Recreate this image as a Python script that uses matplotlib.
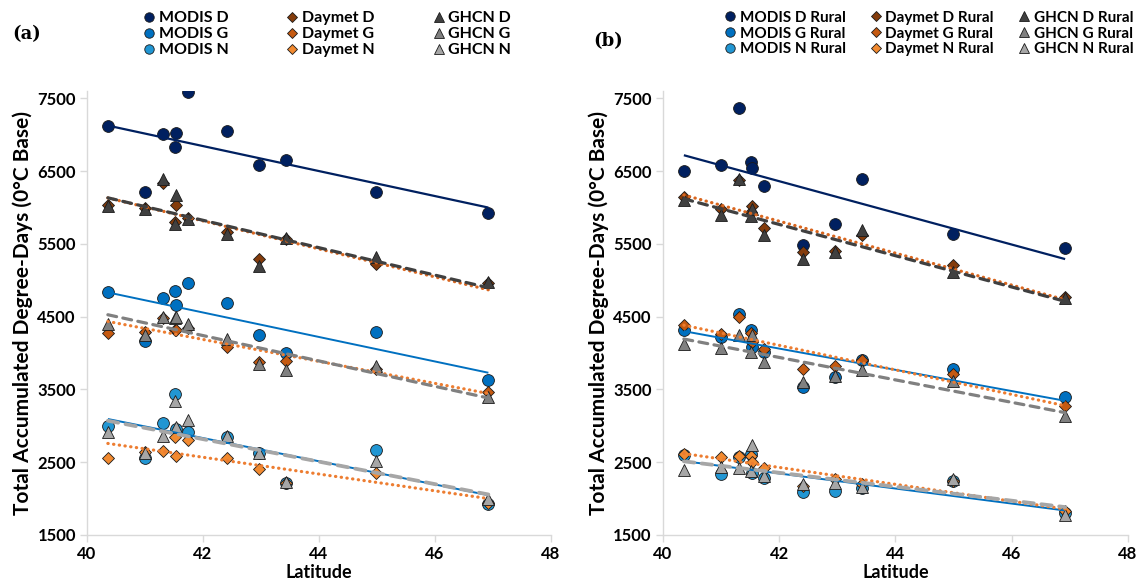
import numpy as np
import matplotlib
matplotlib.use("Agg")
import matplotlib.pyplot as plt
from matplotlib.lines import Line2D

plt.rcParams["font.family"] = ["Lato", "DejaVu Sans"]

# station latitudes (shared by both panels)
lat = [40.36, 41.00, 41.31, 41.52, 41.54, 41.74, 42.41, 42.96, 43.43, 44.99, 46.92]

# panel (a) - all stations
modis_d = [7123, 6214, 7008, 6834, 7018, 7591, 7050, 6582, 6646, 6214, 5930]
modis_g = [4837, 4162, 4760, 4851, 4654, 4961, 4685, 4254, 4002, 4286, 3631]
modis_n = [3001, 2551, 3033, 3438, 2950, 2909, 2850, 2620, 2221, 2667, 1923]
daymet_d = [6040, 5990, 6338, 5800, 6031, 5860, 5660, 5297, 5570, 5228, 4960]
daymet_g = [4278, 4286, 4480, 4319, 4320, 4347, 4089, 3870, 3887, 3780, 3460]
daymet_n = [2551, 2640, 2647, 2840, 2588, 2809, 2560, 2405, 2210, 2345, 1940]
ghcn_d = [6017, 5985, 6385, 5779, 6168, 5847, 5641, 5191, 5586, 5319, 4975]
ghcn_g = [4402, 4241, 4493, 4480, 4500, 4400, 4195, 3851, 3768, 3828, 3401]
ghcn_n = [2909, 2620, 2864, 3336, 2978, 3084, 2864, 2630, 2230, 2519, 1992]

# panel (b) - rural
modis_d_r = [6499, 6577, 7362, 6627, 6545, 6292, 5480, 5779, 6385, 5631, 5443]
modis_g_r = [4320, 4217, 4530, 4319, 4089, 4011, 3538, 3666, 3906, 3782, 3391]
modis_n_r = [2602, 2336, 2565, 2612, 2345, 2289, 2097, 2106, 2152, 2244, 1807]
daymet_d_r = [6145, 5972, 6380, 5939, 6017, 5724, 5388, 5400, 5618, 5214, 4770]
daymet_g_r = [4378, 4264, 4490, 4280, 4150, 4057, 3782, 3828, 3900, 3713, 3277]
daymet_n_r = [2612, 2574, 2590, 2580, 2500, 2427, 2175, 2267, 2198, 2240, 1830]
ghcn_d_r = [6100, 5893, 6385, 5879, 5985, 5618, 5297, 5388, 5686, 5112, 4760]
ghcn_g_r = [4126, 4071, 4241, 4011, 4241, 3873, 3598, 3690, 3768, 3621, 3139]
ghcn_n_r = [2391, 2430, 2427, 2382, 2740, 2313, 2198, 2221, 2161, 2267, 1780]

DOT = (0, (0.1, 1.7))
DASH = (0, (2.8, 2.0))
# (marker, face colour, size, trendline colour, line style, line width)
STYLE = {
    "MODIS D":  ("o", "#002060", 8.5, "#002060", "-", 1.6),
    "MODIS G":  ("o", "#0070C0", 8.5, "#0070C0", "-", 1.4),
    "MODIS N":  ("o", "#2196D3", 8.5, "#0070C0", "-", 1.4),
    "Daymet D": ("D", "#843C0C", 6.5, "#D9661F", DOT, 2.3),
    "Daymet G": ("D", "#C55A11", 6.5, "#ED7D31", DOT, 2.3),
    "Daymet N": ("D", "#F28A30", 6.5, "#ED7D31", DOT, 2.3),
    "GHCN D":   ("^", "#404040", 8.5, "#404040", DASH, 2.3),
    "GHCN G":   ("^", "#808080", 8.5, "#808080", DASH, 2.3),
    "GHCN N":   ("^", "#A6A6A6", 8.5, "#A6A6A6", DASH, 2.7),
}

fig = plt.figure(figsize=(11.43, 5.85), dpi=100)
ax_a = fig.add_axes([0.0761, 0.0855, 0.406, 0.759])
ax_b = fig.add_axes([0.580, 0.0855, 0.4068, 0.759])


def panel(ax, series, suffix, tag, tag_xy, leg_x, colsp, legsize):
    x = np.array(lat)
    for name, vals in series:
        mk, fc, ms, lc, ls, lw = STYLE[name]
        ax.plot(x, vals, linestyle="none", marker=mk, markersize=ms,
                markerfacecolor=fc, markeredgecolor="#1a1a1a",
                markeredgewidth=0.6, zorder=3)
    for name, vals in series:
        mk, fc, ms, lc, ls, lw = STYLE[name]
        k, b = np.polyfit(x, vals, 1)
        xx = np.array([x.min(), x.max()])
        ax.plot(xx, k * xx + b, color=lc, linestyle=ls, lw=lw,
                dash_capstyle="round", solid_capstyle="butt", zorder=4)

    ax.set_xlim(40, 48)
    ax.set_ylim(1500, 7600)
    ax.set_xticks([40, 42, 44, 46, 48])
    ax.set_yticks(range(1500, 7501, 1000))
    for s in ("top", "right"):
        ax.spines[s].set_visible(False)
    for s in ("left", "bottom"):
        ax.spines[s].set_color("#D9D9D9")
        ax.spines[s].set_linewidth(1.0)
    ax.tick_params(direction="out", length=5, color="#D9D9D9", width=1.0,
                   labelsize=12, pad=3)
    for t in ax.get_xticklabels() + ax.get_yticklabels():
        t.set_fontweight("bold")
    ax.set_xlabel("Latitude", fontsize=13, fontweight="bold", labelpad=1.5)
    ax.set_ylabel("Total Accumulated Degree-Days (0°C Base)", fontsize=15,
                  fontweight="bold", labelpad=3)

    handles = []
    for name, _ in series:
        mk, fc, ms, lc, ls, lw = STYLE[name]
        handles.append(Line2D([], [], linestyle="none", marker=mk,
                              markersize=ms * 0.8, markerfacecolor=fc,
                              markeredgecolor="#1a1a1a", markeredgewidth=0.6,
                              label=name + suffix))
    fig.legend(handles=handles, loc="upper left", ncol=3,
               bbox_to_anchor=(leg_x, 0.992), frameon=False,
               prop={"weight": "bold", "size": legsize},
               handletextpad=0.1, handlelength=1.0,
               columnspacing=colsp, labelspacing=0.12, borderaxespad=0)
    fig.text(tag_xy[0], tag_xy[1], tag, fontsize=13, fontweight="bold",
             family="DejaVu Serif", ha="left", va="center")


panel(ax_a, [("MODIS D", modis_d), ("MODIS G", modis_g), ("MODIS N", modis_n),
             ("Daymet D", daymet_d), ("Daymet G", daymet_g), ("Daymet N", daymet_n),
             ("GHCN D", ghcn_d), ("GHCN G", ghcn_g), ("GHCN N", ghcn_n)],
      "", "(a)", (0.011, 0.942), 0.118, 3.5, 11.5)
panel(ax_b, [("MODIS D", modis_d_r), ("MODIS G", modis_g_r), ("MODIS N", modis_n_r),
             ("Daymet D", daymet_d_r), ("Daymet G", daymet_g_r), ("Daymet N", daymet_n_r),
             ("GHCN D", ghcn_d_r), ("GHCN G", ghcn_g_r), ("GHCN N", ghcn_n_r)],
      " Rural", "(b)", (0.519, 0.93), 0.627, 1.5, 11)

fig.savefig("out.png", dpi=100, facecolor="white")
